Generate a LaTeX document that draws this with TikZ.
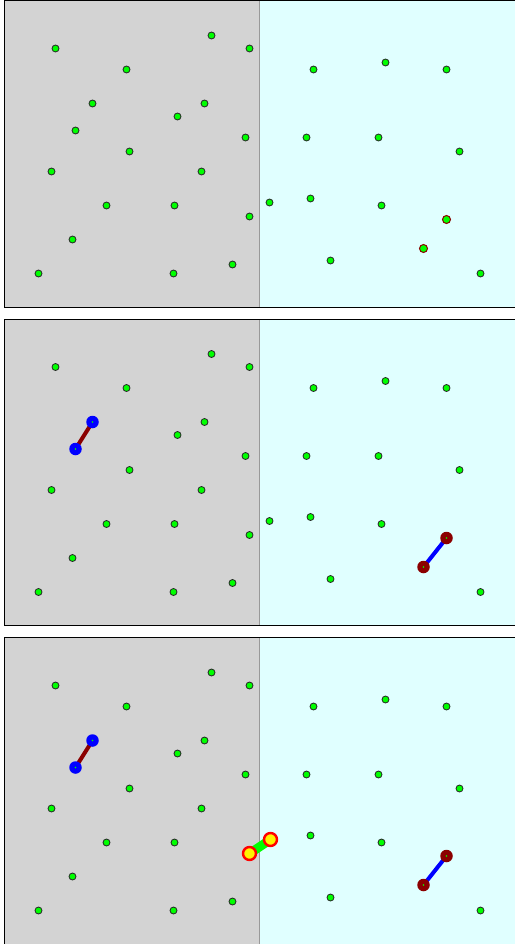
\documentclass[tikz,border=0pt]{standalone}
\definecolor{lgray}{HTML}{D3D3D3}
\definecolor{lcyan}{HTML}{E0FFFF}
\definecolor{dred}{HTML}{8B0000}
\definecolor{lime}{HTML}{00FF00}
\pgfdeclarelayer{back}
\pgfsetlayers{back,main}
\begin{document}
\begin{tikzpicture}[x=1pt,y=-1pt,
  dot/.style={circle,draw=black!85,fill=lime,line width=0.8pt,minimum size=7pt,inner sep=0pt},
  rdot/.style={dot,draw=dred,line width=1pt,minimum size=8pt},
  ctr/.style={path picture={\fill[lime] (path picture bounding box.center) circle (0.8pt);}},
  bluebig/.style={circle,fill=blue,minimum size=12.5pt,inner sep=0pt,ctr},
  redbig/.style={circle,fill=dred,minimum size=12.5pt,inner sep=0pt,ctr},
  yelbig/.style={circle,fill=yellow,draw=red,line width=2.4pt,minimum size=13pt,inner sep=0pt},
  link/.style={line width=4pt,shorten <=-5pt,shorten >=-5pt}]
\useasboundingbox (0,0) rectangle (514,944);
\begin{scope}[shift={(0.5,0.5)}]
\foreach \k/\oy in {1/0,2/318.5,3/637}{
  \begin{scope}[shift={(0,\oy)}]
    \begin{pgfonlayer}{back}
    \fill[lgray] (3.5,0) rectangle (258.5,306.5);
    \fill[lcyan] (258.5,0) rectangle (520,306.5);
    \draw[gray!80,line width=1pt] (258.5,0) -- (258.5,306.5);
    \draw[black,line width=1pt] (520,0) -- (3.5,0) -- (3.5,306.5) -- (520,306.5);
    \end{pgfonlayer}
    \foreach \px/\py [count=\i] in {55/48,211/35,249/48,126/69,204/103,177/116,245/137,129/151,51/171,201/171,106/205,174/205,72/239,38/273,173/273,232/264,313/69,385/62,446/69,306/137,378/137,459/151,310/198,381/205,330/260,480/273}
      \node[dot] (P\k-\i) at (\px,\py) {};
  \end{scope}
}
% panel 1 special points
\node[dot] (A1) at (92,103) {};
\node[dot] (B1) at (75,130) {};
\node[dot] (C1) at (249,216) {};
\node[dot] (D1) at (269,202) {};
\node[rdot] (E1) at (446,219) {};
\node[rdot] (F1) at (423,248) {};
% panel 2
\node[bluebig] (A2) at (92,421.5) {};
\node[bluebig] (B2) at (75,448.5) {};
\node[dot] (C2) at (249,534.5) {};
\node[dot] (D2) at (269,520.5) {};
\node[redbig] (E2) at (446,537.5) {};
\node[redbig] (F2) at (423,566.5) {};
% panel 3
\node[bluebig] (A3) at (92,740) {};
\node[bluebig] (B3) at (75,767) {};
\node[yelbig] (C3) at (249,853) {};
\node[yelbig] (D3) at (270,839) {};
\node[redbig] (E3) at (446,855.5) {};
\node[redbig] (F3) at (423,884.5) {};
\begin{pgfonlayer}{back}
\draw[link,dred] (A2) -- (B2);
\draw[link,blue] (E2) -- (F2);
\draw[link,dred] (A3) -- (B3);
\draw[link,blue] (E3) -- (F3);
\draw[link,lime,line width=9pt] (C3) -- (D3);
\end{pgfonlayer}
\end{scope}
\end{tikzpicture}
\end{document}
